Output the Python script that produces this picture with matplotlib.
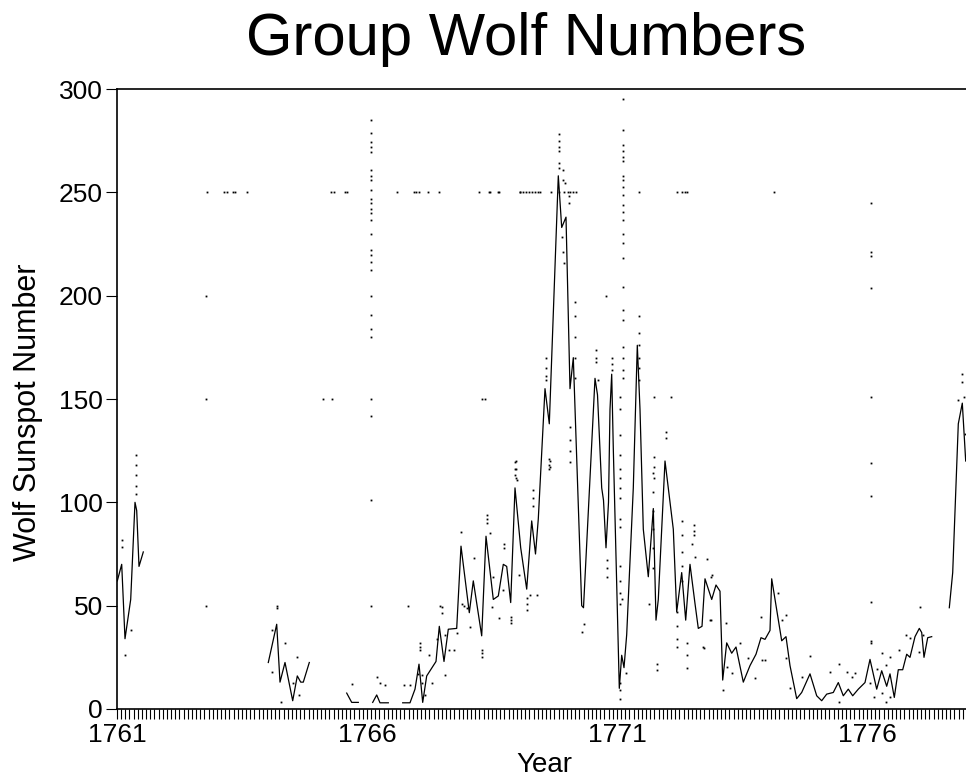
import numpy as np
import matplotlib
matplotlib.use("Agg")
import matplotlib.pyplot as plt
from matplotlib.ticker import FixedLocator, NullFormatter

nan = np.nan

# ---- data -------------------------------------------------------------
title = "Group Wolf Numbers"
x_label = "Year"
y_label = "Wolf Sunspot Number"
year_ticks = [1761, 1766, 1771, 1776]
value_ticks = [0, 50, 100, 150, 200, 250, 300]

# monthly means (line); nan breaks the line where months are missing
mean_year = [
    1761.006, 1761.094, 1761.16, 1761.274, 1761.36, 1761.394, 1761.44, 1761.526, nan,
    1764.026, 1764.194, 1764.26, 1764.36, 1764.514, 1764.606, 1764.674, 1764.726, 1764.846, nan,
    1765.594, 1765.694, 1765.826, nan,
    1766.114, 1766.194, 1766.26, 1766.426, nan,
    1766.714, 1766.86, 1766.96, 1767.04, 1767.114, 1767.194, 1767.38, 1767.446, 1767.54,
    1767.626, 1767.794, 1767.88, 1768.046, 1768.126, 1768.294, 1768.38, 1768.526, 1768.626,
    1768.726, 1768.794, 1768.874, 1768.96, 1769.074, 1769.194, 1769.294, 1769.37, 1769.426,
    1769.56, 1769.646, 1769.826, 1769.894, 1769.98, 1770.06, 1770.126, 1770.294, 1770.33,
    1770.56, 1770.61, 1770.694, 1770.73, 1770.78, 1770.83, 1770.86, 1770.894, 1770.926,
    1771.046, 1771.094, 1771.14, 1771.194, 1771.326, 1771.406, 1771.46, 1771.526, 1771.626,
    1771.726, 1771.78, 1771.826, 1771.96, 1772.126, 1772.194, 1772.294, 1772.374, 1772.46,
    1772.56, 1772.626, 1772.7, 1772.76, 1772.894, 1772.98, 1773.06, 1773.114, 1773.194,
    1773.294, 1773.38, 1773.526, 1773.66, 1773.78, 1773.88, 1773.96, 1774.06, 1774.094,
    1774.16, 1774.294, 1774.38, 1774.46, 1774.594, 1774.694, 1774.86, 1774.994, 1775.094,
    1775.194, 1775.326, 1775.426, 1775.526, 1775.626, 1775.714, 1775.826, 1775.96, 1776.06,
    1776.194, 1776.294, 1776.394, 1776.46, 1776.546, 1776.626, 1776.714, 1776.794, 1776.86,
    1776.96, 1777.046, 1777.094, 1777.14, 1777.214, 1777.294, nan,
    1777.646, 1777.714, 1777.794, 1777.826, 1777.906, 1777.974,
]
mean_value = [
    62, 70, 34, 53, 100, 96, 69, 76, nan,
    22.5, 41, 13, 22.5, 4, 16, 13, 13, 22.5, nan,
    7.7, 3.2, 3.2, nan,
    3.2, 6.8, 3, 3, nan,
    3, 3, 9.6, 21.7, 3.2, 16, 23, 40, 23,
    38.6, 39, 78.8, 46.6, 62, 35.4, 83.6, 53, 54.7,
    70, 69, 51.5, 107, 78, 58, 91, 75, 92,
    155, 138, 258, 233, 238, 155, 170, 50, 49,
    160, 152, 107, 101, 78, 100, 145, 162, 126,
    10, 26, 20, 36, 107, 176, 145, 87, 64,
    97, 43, 53, 120, 87, 47, 66, 43, 70,
    51, 39, 40, 63, 53, 60, 57, 14, 32,
    27, 30, 13, 21, 26.5, 34.5, 33.7, 38, 63,
    53, 33, 35, 21, 5, 8, 17, 6.4, 4,
    7.2, 8, 12.8, 6.4, 9.6, 6.4, 9.6, 12.8, 24,
    9.6, 18.5, 11, 17, 5.6, 19, 19, 26.5, 25,
    35, 39, 37, 25, 34.5, 35, nan,
    49, 66, 117, 138, 148, 120,
]

# individual daily observations (dots)
daily_year = (
    [1762.79, 1763.14, 1763.19, 1763.31, 1763.36, 1763.59, 1765.27, 1765.33, 1765.55,
     1765.59, 1766.59, 1766.93, 1766.98, 1767.03, 1767.21, 1767.44, 1768.23, 1768.43,
     1768.45, 1768.61, 1768.63, 1769.05, 1769.06, 1769.12, 1769.18, 1769.24, 1769.30,
     1769.36, 1769.42, 1769.46, 1769.67, 1769.83, 1769.93, 1770.01, 1770.06, 1770.11,
     1770.17, 1771.43, 1772.19, 1772.29, 1772.35, 1772.39, 1774.13]
    + [1762.78] * 3
    + [1765.11, 1765.29, 1768.29, 1768.36, 1764.19, 1766.81, 1767.46]
    + [1766.07] * 27
    + [1771.11] * 23
    + [1771.06] * 17
    + [1776.07] * 10 + [1776.05, 1776.13]
    + [1777.89, 1777.89, 1777.81, 1777.93, 1777.95]
    + [1769.84] * 6 + [1769.91, 1769.91, 1769.96, 1770.03, 1770.03, 1769.89, 1769.91, 1769.93]
    + [1770.15] * 5 + [1769.57] * 4 + [1768.98] * 3 + [1769.65] * 2 + [1770.06] * 4
    + [1770.57] * 3 + [1770.61, 1770.79, 1770.79, 1770.79, 1770.78, 1770.89, 1770.89, 1770.89]
    + [1771.43] * 6 + [1771.74] * 4 + [1772.08, 1771.97, 1771.97, 1772.49, 1772.55, 1772.79,
                                        1772.87, 1772.87, 1772.73, 1772.71]
    + [1772.53] * 3 + [1772.29] * 5 + [1772.19] * 4 + [1772.39] * 3 + [1771.79] * 2
    + [1771.72] * 6 + [1771.63, 1771.18, 1771.09, 1770.29, 1770.33]
    + [1765.69, 1766.19, 1766.26, 1766.36, 1766.73, 1766.85, 1767.05, 1767.05, 1767.05,
       1767.01, 1767.09, 1767.09, 1767.15, 1767.23, 1767.29, 1767.39, 1767.49, 1767.49,
       1767.56, 1767.55, 1767.63, 1767.73, 1767.79, 1767.88, 1767.89, 1767.94, 1767.99,
       1768.05, 1768.13, 1768.29, 1768.29, 1768.29, 1768.39, 1768.39, 1768.39, 1768.45,
       1768.51, 1768.49, 1768.63, 1768.73, 1768.73, 1768.71, 1768.87, 1768.87, 1768.87,
       1768.96, 1768.96, 1768.96, 1768.99, 1769.03, 1769.19, 1769.19, 1769.19, 1769.25,
       1769.31, 1769.31, 1769.31, 1769.39, 1769.64, 1769.64, 1769.64]
    + [1761.09, 1761.09, 1761.16, 1761.27] + [1761.38] * 5
    + [1764.09, 1764.09, 1764.19, 1764.36, 1764.27, 1764.59, 1764.63, 1764.51]
    + [1772.89, 1772.86, 1773.18, 1773.11, 1773.19, 1773.29, 1773.46, 1773.61, 1773.76,
       1773.87, 1773.89, 1773.96, 1774.21, 1774.29, 1774.38, 1774.38, 1774.45, 1774.69,
       1774.86, 1775.26, 1775.43, 1775.43, 1775.59, 1775.69, 1775.76, 1776.19, 1776.29,
       1776.29, 1776.38, 1776.38, 1776.45, 1776.45, 1776.63, 1776.78, 1776.85, 1777.05,
       1777.03, 1777.11]
)
daily_value = (
    [250] * 43
    + [200, 150, 50]
    + [150, 150, 150, 150, 50, 50, 50]
    + [285, 278.5, 274.5, 272, 269.6, 260.8, 258, 256, 251, 247, 244.7, 242, 240, 236.6,
       230, 222, 219.6, 216.4, 212.4, 200, 190.6, 184, 180, 150, 142, 101, 50]
    + [295.4, 280, 273, 270, 267, 265, 258, 256, 252.7, 248.7, 243.8, 240.6, 236.6, 230,
       225.3, 218, 204, 193, 188, 175, 169.7, 164, 160]
    + [151, 145, 132.5, 123, 116, 112, 107, 102, 92, 88, 69, 62, 56, 51, 12.5, 9, 5]
    + [244.7, 221, 219, 203.5, 151, 119, 103, 52, 33, 32, 12.4, 6]
    + [162, 158, 149.5, 151, 133]
    + [278, 275, 272, 270, 264, 262, 261, 256, 254.5, 248, 245, 228.5, 221, 215.6]
    + [197, 190, 180, 170, 160] + [170, 165, 161, 159] + [120, 116, 112] + [120, 117]
    + [136.6, 130, 125, 119.6]
    + [173.7, 170, 168] + [159, 72, 68, 64, 200, 170, 167, 164]
    + [190, 182, 176, 170, 165, 159] + [151, 122, 117, 112]
    + [151, 134, 131, 80, 73.7, 72.4, 64, 43, 29.4, 30]
    + [89, 86, 84] + [91, 84, 76, 69, 62] + [47, 40, 34, 30] + [32, 26, 20] + [22, 19]
    + [114, 105, 96, 87, 78, 68] + [51, 17.3, 53, 37.5, 41]
    + [12.1, 15.6, 12.4, 11.6, 11.6, 11.6, 32, 30, 28.5,
       17, 16.4, 12.6, 6.8, 26, 12.4, 33.7, 49.5, 46.3,
       16.4, 35.8, 28.5, 28.5, 36.6, 85.8, 51, 50, 49,
       39.8, 72.9, 28.5, 27, 25.3, 94, 92, 90, 85,
       64, 49.5, 43.9, 80, 78, 57.6, 44.6, 43, 41.5,
       119.6, 116, 113, 110.8, 64.8, 53.5, 51, 48, 55,
       106, 102, 98, 55, 121, 118, 116]
    + [81.8, 78.5, 26, 38] + [123, 118, 113, 108, 104]
    + [38, 18, 49, 31.8, 3.5, 25.3, 6.8, 12.4]
    + [64.8, 43, 41.5, 9.2, 20.5, 17.3, 31.8, 24.5, 14.9,
       44.7, 23.7, 23.7, 56, 43, 45.5, 24.5, 10, 15.6,
       25.6, 18, 21.6, 3.5, 18, 15.6, 17.3, 19.2, 27,
       7.6, 21.3, 3.5, 25.3, 6, 28.5, 35.8, 34.2, 49.5,
       27.7, 35.8]
)

# ---- figure -----------------------------------------------------------
plt.rcParams["font.family"] = ["Liberation Sans", "DejaVu Sans"]
fig = plt.figure(figsize=(9.66, 7.79), dpi=100)
ax = fig.add_axes([117 / 966, 1 - 709 / 779, 850 / 966, 620 / 779])

ax.plot(daily_year, daily_value, linestyle="none", marker="s", markersize=1.3,
        color="black", markeredgewidth=0)
ax.plot(mean_year, mean_value, color="black", linewidth=0.9)

ax.set_xlim(1761, 1778)
ax.set_ylim(0, 300)

ax.xaxis.set_major_locator(FixedLocator(year_ticks))
ax.xaxis.set_minor_locator(FixedLocator(np.arange(1761, 1778.01, 1 / 12)))
ax.xaxis.set_minor_formatter(NullFormatter())
ax.set_xticklabels([str(y) for y in year_ticks])
ax.yaxis.set_major_locator(FixedLocator(value_ticks))
ax.set_yticklabels([str(v) for v in value_ticks])

ax.tick_params(axis="x", which="both", direction="out", length=7, width=0.8,
               labelsize=19, pad=3, top=False)
ax.tick_params(axis="y", which="both", direction="out", length=8, width=0.8,
               labelsize=19, pad=2, right=False)

for side in ["left", "bottom", "top"]:
    ax.spines[side].set_linewidth(1.2)
ax.spines["right"].set_visible(False)

fig.text(0.545, 1 - 55 / 779, title, ha="center", va="baseline", fontsize=43)
fig.text(544 / 966, 1 - 772 / 779, x_label, ha="center", va="baseline", fontsize=20)
fig.text(28 / 966, 1 - 412 / 779, y_label, ha="center", va="center", rotation=90,
         fontsize=22)

fig.savefig("out.png", dpi=100)
